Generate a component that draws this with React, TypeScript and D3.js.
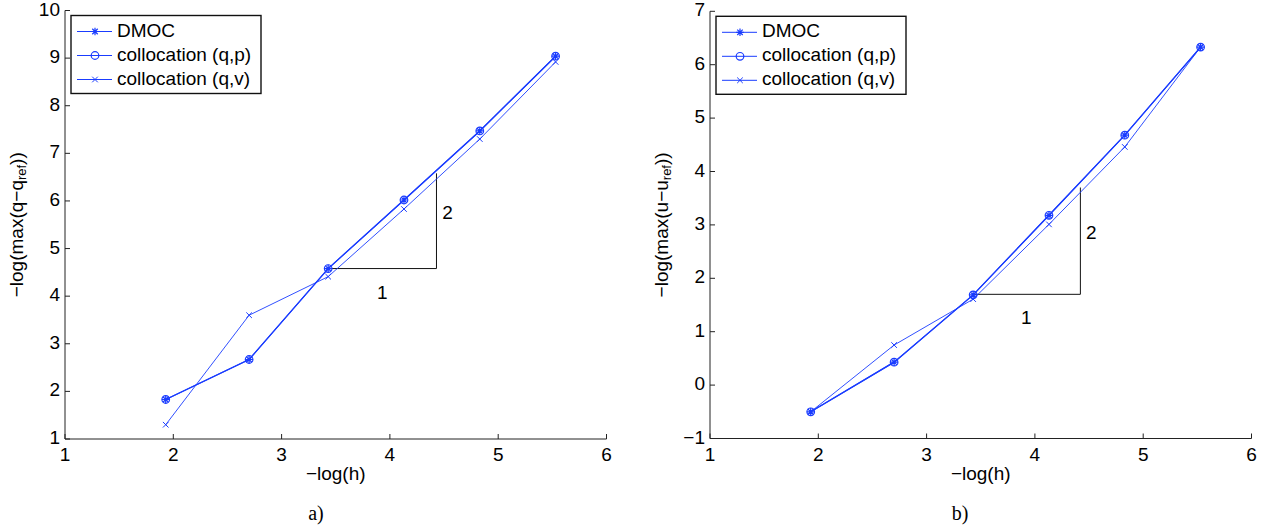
import { useRef, useEffect } from "react";
import * as d3 from "d3";

// -log(h) sample points, shared by both panels
const xVals = [1.93, 2.7, 3.43, 4.13, 4.83, 5.53];

// panel a) : -log(max(q - q_ref))
const qDmoc = [1.83, 2.67, 4.58, 6.02, 7.47, 9.04];
const qColP = [1.83, 2.67, 4.58, 6.02, 7.47, 9.04];
const qColV = [1.3, 3.6, 4.41, 5.83, 7.3, 8.92];

// panel b) : -log(max(u - u_ref))
const uDmoc = [-0.5, 0.43, 1.69, 3.18, 4.68, 6.33];
const uColP = [-0.5, 0.43, 1.69, 3.18, 4.68, 6.33];
const uColV = [-0.5, 0.75, 1.61, 3.01, 4.46, 6.33];

const seriesNames = ["DMOC", "collocation (q,p)", "collocation (q,v)"];
const markers = ["star", "circle", "cross"];

const xTicks = [1, 2, 3, 4, 5, 6];
const qTicks = [1, 2, 3, 4, 5, 6, 7, 8, 9, 10];
const uTicks = [-1, 0, 1, 2, 3, 4, 5, 6, 7];

// slope triangles: start point, run of 1, rise of 2
const qTriangle = { x0: 3.43, y0: 4.58 };
const uTriangle = { x0: 3.42, y0: 1.7 };

const BLUE = "#1a3cff";
const FONT = "'Liberation Sans', Arial, Helvetica, sans-serif";
const FS = "19px";

function fmt(v: number) {
  return v < 0 ? "\u2212" + Math.abs(v) : String(v);
}

function drawMarker(g: any, type: string, cx: number, cy: number) {
  const r = 3.8;
  if (type === "circle") {
    g.append("circle")
      .attr("cx", cx)
      .attr("cy", cy)
      .attr("r", r)
      .attr("fill", "none")
      .attr("stroke", BLUE)
      .attr("stroke-width", 1.2);
  } else if (type === "cross") {
    const p = d3.path();
    const s = 2.8;
    p.moveTo(cx - s, cy - s);
    p.lineTo(cx + s, cy + s);
    p.moveTo(cx - s, cy + s);
    p.lineTo(cx + s, cy - s);
    g.append("path").attr("d", p.toString()).attr("stroke", BLUE).attr("stroke-width", 1);
  } else {
    const p = d3.path();
    const s = 3.8;
    const d = s * 0.72;
    p.moveTo(cx - s, cy);
    p.lineTo(cx + s, cy);
    p.moveTo(cx, cy - s);
    p.lineTo(cx, cy + s);
    p.moveTo(cx - d, cy - d);
    p.lineTo(cx + d, cy + d);
    p.moveTo(cx - d, cy + d);
    p.lineTo(cx + d, cy - d);
    g.append("path").attr("d", p.toString()).attr("stroke", BLUE).attr("stroke-width", 1.2);
  }
}

function drawPanel(svg: any, opts: any) {
  const { left, yDomain, yTop, yBottom, yTicks, series, triangle, ySym, caption, captionX } = opts;
  const x = d3.scaleLinear().domain([1, 6]).range([left, left + 541.5]);
  const y = d3.scaleLinear().domain(yDomain).range([yBottom, yTop]);
  const g = svg.append("g");

  // axes (box off, ticks inward)
  g.append("line")
    .attr("x1", x(1)).attr("x2", x(6))
    .attr("y1", y(yDomain[0])).attr("y2", y(yDomain[0]))
    .attr("stroke", "#222");
  g.append("line")
    .attr("x1", x(1)).attr("x2", x(1))
    .attr("y1", y(yDomain[0])).attr("y2", y(yDomain[1]))
    .attr("stroke", "#222");

  xTicks.forEach((t) => {
    g.append("line")
      .attr("x1", x(t)).attr("x2", x(t))
      .attr("y1", y(yDomain[0])).attr("y2", y(yDomain[0]) - 5)
      .attr("stroke", "#222");
    g.append("text")
      .attr("x", x(t))
      .attr("y", y(yDomain[0]) + 17)
      .attr("text-anchor", "middle")
      .attr("dominant-baseline", "middle")
      .style("font-family", FONT)
      .style("font-size", FS)
      .text(fmt(t));
  });
  yTicks.forEach((t: number) => {
    g.append("line")
      .attr("x1", x(1)).attr("x2", x(1) + 5)
      .attr("y1", y(t)).attr("y2", y(t))
      .attr("stroke", "#222");
    g.append("text")
      .attr("x", x(1) - 5)
      .attr("y", y(t))
      .attr("text-anchor", "end")
      .attr("dominant-baseline", "middle")
      .style("font-family", FONT)
      .style("font-size", FS)
      .text(fmt(t));
  });

  // axis labels
  g.append("text")
    .attr("x", (x(1) + x(6)) / 2)
    .attr("y", y(yDomain[0]) + 36)
    .attr("text-anchor", "middle")
    .attr("dominant-baseline", "middle")
    .style("font-family", FONT)
    .style("font-size", FS)
    .text("\u2212log(h)");

  const yl = g.append("text")
    .attr("transform", `translate(${x(1) - 47},${(yTop + yBottom) / 2}) rotate(-90)`)
    .attr("text-anchor", "middle")
    .attr("dominant-baseline", "middle")
    .style("font-family", FONT)
    .style("font-size", FS);
  yl.append("tspan").text(`\u2212log(max(${ySym}\u2212${ySym}`);
  yl.append("tspan").attr("dy", 5).style("font-size", "13px").text("ref");
  yl.append("tspan").attr("dy", -5).text("))");

  // slope triangle
  const tri = d3.line()([
    [x(triangle.x0), y(triangle.y0)],
    [x(triangle.x0 + 1), y(triangle.y0)],
    [x(triangle.x0 + 1), y(triangle.y0 + 2)],
  ]);
  g.append("path").attr("d", tri).attr("fill", "none").attr("stroke", "#111").attr("stroke-width", 1);
  g.append("text")
    .attr("x", x(triangle.x0 + 0.5))
    .attr("y", y(triangle.y0) + 25)
    .attr("text-anchor", "middle")
    .attr("dominant-baseline", "middle")
    .style("font-family", FONT)
    .style("font-size", FS)
    .text("1");
  g.append("text")
    .attr("x", x(triangle.x0 + 1) + 11)
    .attr("y", y(triangle.y0 + 1) - 7)
    .attr("text-anchor", "middle")
    .attr("dominant-baseline", "middle")
    .style("font-family", FONT)
    .style("font-size", FS)
    .text("2");

  // series
  const line = d3.line<number>().x((d, i) => x(xVals[i])).y((d) => y(d));
  series.forEach((vals: number[], si: number) => {
    g.append("path")
      .datum(vals)
      .attr("d", line)
      .attr("fill", "none")
      .attr("stroke", BLUE)
      .attr("stroke-width", si === 2 ? 0.9 : 1.2);
    vals.forEach((v, i) => drawMarker(g, markers[si], x(xVals[i]), y(v)));
  });

  // legend
  const lx = x(1) + 6;
  const ly = yTop + 5;
  g.append("rect")
    .attr("x", lx).attr("y", ly)
    .attr("width", 190).attr("height", 78)
    .attr("fill", "white")
    .attr("stroke", "#111")
    .attr("stroke-width", 1.4);
  seriesNames.forEach((name, i) => {
    const ey = ly + 16 + i * 24;
    g.append("line")
      .attr("x1", lx + 6).attr("x2", lx + 41)
      .attr("y1", ey).attr("y2", ey)
      .attr("stroke", BLUE);
    drawMarker(g, markers[i], lx + 24, ey);
    g.append("text")
      .attr("x", lx + 46)
      .attr("y", ey)
      .attr("dominant-baseline", "middle")
      .style("font-family", FONT)
      .style("font-size", FS)
      .text(name);
  });

  // caption
  g.append("text")
    .attr("x", captionX)
    .attr("y", 515)
    .attr("text-anchor", "middle")
    .attr("dominant-baseline", "middle")
    .style("font-family", "'Liberation Serif', 'DejaVu Serif', serif")
    .style("font-size", "20px")
    .text(caption);
}

export default function App() {
  const ref = useRef<SVGSVGElement>(null);

  useEffect(() => {
    const svg = d3.select(ref.current);
    svg.selectAll("*").remove();

    drawPanel(svg, {
      left: 65,
      yDomain: [1, 10],
      yTop: 10.5,
      yBottom: 439,
      yTicks: qTicks,
      series: [qDmoc, qColP, qColV],
      triangle: qTriangle,
      ySym: "q",
      caption: "a)",
      captionX: 316,
    });
    drawPanel(svg, {
      left: 710,
      yDomain: [-1, 7],
      yTop: 11.3,
      yBottom: 438.5,
      yTicks: uTicks,
      series: [uDmoc, uColP, uColV],
      triangle: uTriangle,
      ySym: "u",
      caption: "b)",
      captionX: 960,
    });
  }, []);

  return (
    <svg
      ref={ref}
      width={1265}
      height={528}
      style={{ position: "absolute", left: 0, top: 0, background: "white" }}
    ></svg>
  );
}
